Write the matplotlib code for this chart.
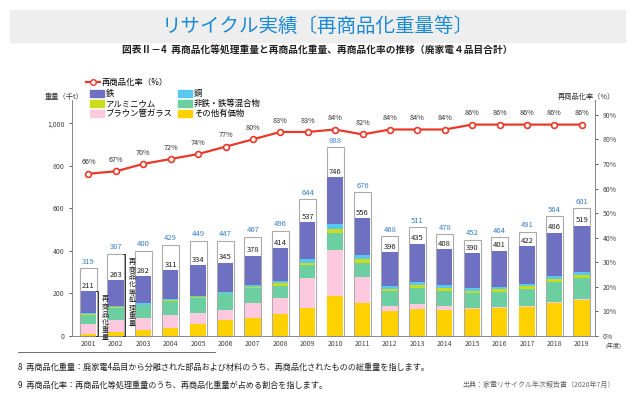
import matplotlib.pyplot as plt
import matplotlib.patches as mpatches
from matplotlib.lines import Line2D
import numpy as np

plt.rcParams['font.family'] = ['Noto Sans CJK JP', 'DejaVu Sans']

# data (thousand tonnes)
years = [str(y) for y in range(2001, 2020)]
processed = [319, 387, 400, 429, 449, 447, 467, 496, 644, 888, 676, 468, 511, 478, 452, 464, 491, 564, 601]
recycled = [211, 263, 282, 311, 334, 345, 378, 414, 537, 746, 556, 396, 435, 408, 390, 401, 422, 486, 519]
rate = [66, 67, 70, 72, 74, 77, 80, 83, 83, 84, 82, 84, 84, 84, 86, 86, 86, 86, 86]

other_valuables = [8, 19, 30, 39, 55, 74, 87, 102, 134, 187, 153, 117, 129, 124, 126, 131, 135, 154, 169]
crt_glass = [50, 55, 55, 59, 52, 50, 69, 79, 137, 218, 123, 26, 21, 16, 8, 4, 4, 5, 4]
mixed = [43, 60, 61, 67, 74, 76, 68, 55, 63, 78, 66, 70, 77, 73, 69, 73, 80, 95, 98]
aluminium = [2, 2, 2, 3, 3, 3, 7, 11, 11, 21, 19, 9, 14, 12, 11, 11, 14, 12, 16]
copper = [4, 4, 5, 4, 6, 6, 7, 11, 19, 24, 19, 14, 13, 13, 13, 12, 13, 14, 14]
iron = [104, 123, 129, 139, 144, 136, 140, 156, 173, 218, 176, 160, 181, 170, 163, 170, 176, 206, 218]

c_iron = '#6e70c2'
c_copper = '#58c8f2'
c_alu = '#c9dd1c'
c_mixed = '#6ccfa2'
c_crt = '#fcc9de'
c_other = '#ffd100'
c_line = '#e8392a'
c_blue = '#3a80c6'

fig = plt.figure(figsize=(6.35, 3.99), dpi=100)
fig.patches.append(mpatches.Rectangle((10 / 635, 1 - 42 / 399), 615 / 635, 32 / 399,
                                      transform=fig.transFigure, color='#eeeeee', zorder=0))
fig.text(0.5, 1 - 26 / 399, 'リサイクル実績〔再商品化重量等〕', ha='center', va='center',
         fontsize=14, color='#1a8ad4')
fig.text(0.5, 1 - 50 / 399,
         '図表Ⅱ－4  再商品化等処理重量と再商品化重量、再商品化率の推移（廃家電４品目合計）',
         ha='center', va='center', fontsize=7, fontweight='bold', color='#222222')

ax = fig.add_axes([72 / 635, 1 - 336 / 399, 523 / 635, 236 / 399])
x = np.arange(len(years))

# outline box = processed weight
ax.bar(x, processed, width=0.62, color='white', edgecolor='#aaaaaa', linewidth=0.8, zorder=2)
stack = [(other_valuables, c_other), (crt_glass, c_crt), (mixed, c_mixed),
         (aluminium, c_alu), (copper, c_copper), (iron, c_iron)]
bottom = np.zeros(len(years))
for vals, col in stack:
    ax.bar(x, vals, width=0.56, bottom=bottom, color=col, linewidth=0, zorder=3)
    bottom += np.array(vals)

for i in range(len(years)):
    ax.text(x[i], processed[i] + 12, str(processed[i]), ha='center', va='bottom',
            fontsize=5.5, color=c_blue, zorder=5)
    ax.text(x[i], recycled[i] + 6, str(recycled[i]), ha='center', va='bottom',
            fontsize=5.5, color='#222222', zorder=5)

ax.set_xlim(-0.6, 18.48)
ax.set_ylim(0, 1110)
ax.set_yticks(range(0, 1001, 200))
ax.set_yticklabels(['0', '200', '400', '600', '800', '1,000'])
ax.set_xticks(x)
ax.set_xticklabels(years)
ax.tick_params(axis='both', labelsize=5, colors='#444444', length=2, width=0.6)
ax.tick_params(axis='x', length=0, pad=3)
ax.spines['top'].set_visible(False)
for s in ['left', 'right', 'bottom']:
    ax.spines[s].set_color('#888888')
    ax.spines[s].set_linewidth(0.7)

# brackets with vertical labels (one character per line)
def bracket(xb, top, label, xt):
    ax.plot([xb - 0.08, xb, xb, xb - 0.08], [top, top, 0, 0], color='#333333', lw=0.7,
            zorder=4, clip_on=False)
    for k, ch in enumerate(label):
        ax.annotate(ch, xy=(xt, top), xytext=(0, -3 - 5.6 * k), textcoords='offset points',
                    ha='center', va='top', fontsize=5, color='#222222', zorder=4)

bracket(0.34, recycled[0], '再商品化重量', 0.6)
bracket(1.34, processed[1], '再商品化等処理重量', 1.6)

ax2 = ax.twinx()
ax2.set_ylim(0, 96)
ax2.set_yticks(range(0, 91, 10))
ax2.set_yticklabels([f'{v}%' for v in range(0, 91, 10)])
ax2.tick_params(axis='y', labelsize=5, colors='#444444', length=2, width=0.6)
for s in ['top', 'left', 'bottom']:
    ax2.spines[s].set_visible(False)
ax2.spines['right'].set_color('#888888')
ax2.spines['right'].set_linewidth(0.7)
ax2.plot(x, rate, color=c_line, lw=1.6, marker='o', markersize=4.2,
         markerfacecolor='white', markeredgecolor=c_line, markeredgewidth=1.2, zorder=6)
for i in range(len(years)):
    ax2.text(x[i], rate[i] + 3, f'{rate[i]}%', ha='center', va='bottom', fontsize=5.2,
             color='#333333')

fig.text(45 / 635, 1 - 97 / 399, '重量（千t）', ha='left', va='center', fontsize=5.2, color='#333333')
fig.text(615 / 635, 1 - 97 / 399, '再商品化率（%）', ha='right', va='center', fontsize=5.2, color='#333333')
fig.text(613 / 635, 1 - 346 / 399, '(年度)', ha='center', va='center', fontsize=4.3, color='#444444')

# legend
line_h = [Line2D([0], [0], color=c_line, lw=1.6, marker='o', markersize=4,
                 markerfacecolor='white', markeredgecolor=c_line)]
fig.legend(line_h, ['再商品化率（%）'], loc='center left', bbox_to_anchor=(86 / 635, 1 - 82 / 399),
           frameon=False, fontsize=6, handlelength=1.7, handletextpad=0.2, borderpad=0,
           borderaxespad=0)
patch_h = [mpatches.Patch(color=c) for c in [c_iron, c_alu, c_crt, c_copper, c_mixed, c_other]]
patch_l = ['鉄', 'アルミニウム', 'ブラウン管ガラス', '銅', '非鉄・鉄等混合物', 'その他有価物']
fig.legend(patch_h, patch_l, ncol=2, loc='upper left', bbox_to_anchor=(90 / 635, 1 - 89 / 399),
           frameon=False, fontsize=6, handlelength=1.7, handleheight=0.9, handletextpad=0.2,
           labelspacing=0.12, columnspacing=0.6, borderpad=0, borderaxespad=0)

# footnotes
fig.add_artist(Line2D([18 / 635, 215 / 635], [1 - 352 / 399] * 2, color='#555555', lw=0.6))
fig.text(18 / 635, 1 - 367 / 399,
         '8  再商品化重量：廃家電4品目から分離された部品および材料のうち、再商品化されたものの総重量を指します。',
         ha='left', va='center', fontsize=5.9, color='#222222')
fig.text(18 / 635, 1 - 385 / 399,
         '9  再商品化率：再商品化等処理重量のうち、再商品化重量が占める割合を指します。',
         ha='left', va='center', fontsize=5.9, color='#222222')
fig.text(615 / 635, 1 - 385 / 399, '出典：家電リサイクル年次報告書（2020年7月）',
         ha='right', va='center', fontsize=5, color='#666666')

fig.savefig('out.png', dpi=100)
